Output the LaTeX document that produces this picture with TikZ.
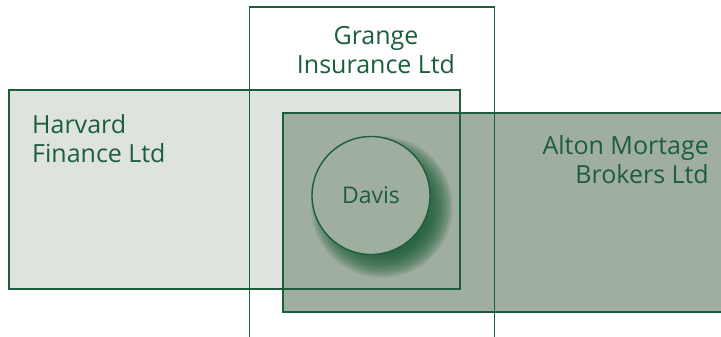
\documentclass[tikz,border=0pt]{standalone}
\usepackage{fontspec}
\setmainfont{Open Sans}
\definecolor{lg}{HTML}{1B5E3B}
\definecolor{harv}{HTML}{DFE3DE}
\definecolor{alt}{HTML}{9FAE9F}
\definecolor{shd}{HTML}{1A5C36}
\begin{document}
\begin{tikzpicture}[x=1pt,y=-1pt,
  edge/.style={draw=lg,line width=1.6pt},
  lbl/.style={text=lg,inner sep=0pt,font=\fontsize{25}{29}\selectfont}]
\useasboundingbox (0,0) rectangle (721,337);
\clip (0,0) rectangle (721,337);
\fill[white] (0,0) rectangle (721,337);
% fills
\fill[harv] (9,90) rectangle (460,289);
\fill[alt] (283,113) rectangle (730,312);
% shadow
\foreach \i in {0,...,24}
  \fill[shd,opacity=0.065] (382,207) circle[radius={(71-\i)*1pt}];
\node[circle,minimum size=118pt,inner sep=0pt,draw=lg,fill=alt,line width=1.4pt,
  text=lg,font=\fontsize{23}{26}\selectfont] (davis) at (371,195.5) {Davis};
% outlines
\draw[edge] (249.5,345) -- (249.5,7) -- (494.5,7) -- (494.5,345);
\draw[edge] (9,90) rectangle (460,289);
\draw[edge] (730,113) -- (283,113) -- (283,312) -- (730,312);
% labels
\node[lbl,align=center,anchor=base] (grange) at (376,74) {Grange\\Insurance Ltd};
\node[lbl,align=left,anchor=base west] (harvard) at (32,162) {Harvard\\Finance Ltd};
\node[lbl,align=right,anchor=base east] (alton) at (709,183) {Alton Mortage\\Brokers Ltd};
\end{tikzpicture}
\end{document}
